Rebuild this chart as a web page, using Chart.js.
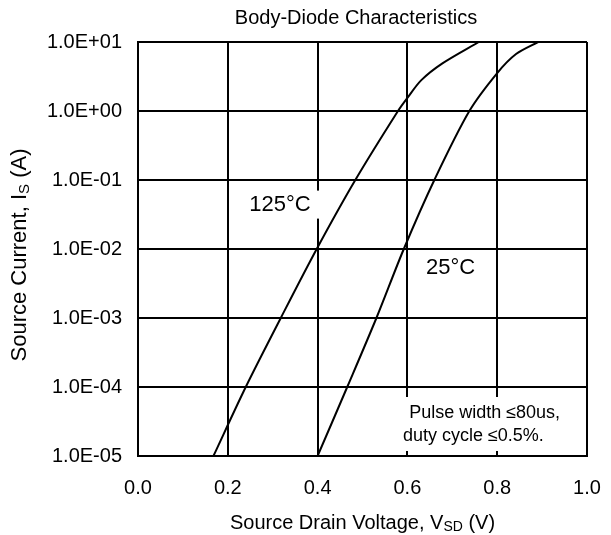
<!DOCTYPE html>
<html>
<head>
<meta charset="utf-8">
<script src="https://cdn.jsdelivr.net/npm/chart.js@4"></script>
<style>
  html, body { margin: 0; padding: 0; background: #fff; }
  #wrap { width: 611px; height: 535px; }
</style>
</head>
<body>
<div id="wrap"><canvas id="chart" width="611" height="535"></canvas></div>
<script>
// =============================================
// Data
// =============================================
const voltage125 = [0.168, 0.240, 0.318, 0.398, 0.484, 0.579, 0.600, 0.631, 0.678, 0.759];
const current125 = [1e-5, 1e-4, 1e-3, 1e-2, 1e-1, 1e0, 1.55, 2.8, 4.9, 10];

const voltage25 = [0.400, 0.466, 0.531, 0.592, 0.660, 0.738, 0.800, 0.842, 0.891];
const current25 = [1e-5, 1e-4, 1e-3, 1e-2, 1e-1, 1e0, 3.55, 6.7, 10];

const xTicks = [0, 0.2, 0.4, 0.6, 0.8, 1.0];
const yTicks = [1e-5, 1e-4, 1e-3, 1e-2, 1e-1, 1e0, 1e1];

const FONT = '"Liberation Sans", Arial, sans-serif';

function toPoints(xs, ys) {
  return xs.map((x, i) => ({ x, y: ys[i] }));
}

function sciLabel(v) {
  const e = Math.round(Math.log10(v));
  const sign = e < 0 ? '-' : '+';
  return '1.0E' + sign + String(Math.abs(e)).padStart(2, '0');
}

// =============================================
// Text helpers
// =============================================
// parts: [{ t: 'text', sub: bool }]
function partsWidth(ctx, parts, size, subSize) {
  let w = 0;
  parts.forEach(p => {
    ctx.font = `${p.sub ? subSize : size}px ${FONT}`;
    w += ctx.measureText(p.t).width;
  });
  return w;
}

function drawParts(ctx, parts, cx, cy, size, subSize) {
  const total = partsWidth(ctx, parts, size, subSize);
  let x = cx - total / 2;
  ctx.textBaseline = 'middle';
  ctx.textAlign = 'left';
  ctx.fillStyle = '#000';
  parts.forEach(p => {
    ctx.font = `${p.sub ? subSize : size}px ${FONT}`;
    ctx.fillText(p.t, x, p.sub ? cy + size * 0.2 : cy);
    x += ctx.measureText(p.t).width;
  });
}

const labelsPlugin = {
  id: 'labels',
  beforeDatasetsDraw(chart) {
    const ctx = chart.ctx;
    const xs = chart.scales.x;
    const ys = chart.scales.y;
    ctx.save();

    // 125°C label with white box over the grid
    const l1x = xs.getPixelForValue(0.316);
    const l1y = ys.getPixelForValue(0.044);
    ctx.fillStyle = '#fff';
    ctx.fillRect(l1x - 36, l1y - 14, 78, 28);
    ctx.fillStyle = '#000';
    ctx.font = `22px ${FONT}`;
    ctx.textAlign = 'center';
    ctx.textBaseline = 'middle';
    ctx.fillText('125°C', l1x, l1y);

    // 25°C label
    ctx.fillText('25°C', xs.getPixelForValue(0.696), ys.getPixelForValue(0.0053));

    // Pulse note
    const n1x = xs.getPixelForValue(0.772);
    const n2x = xs.getPixelForValue(0.747);
    const ny1 = ys.getPixelForValue(4.2e-5);
    const ny2 = ys.getPixelForValue(1.95e-5);
    ctx.fillStyle = '#fff';
    ctx.fillRect(n2x - 76, ny1 - 16, 170, ny2 - ny1 + 31);
    ctx.fillStyle = '#000';
    ctx.font = `18px ${FONT}`;
    ctx.fillText('Pulse width ≤80us,', n1x, ny1);
    ctx.fillText('duty cycle ≤0.5%.', n2x, ny2);

    ctx.restore();
  },
  afterDraw(chart) {
    const ctx = chart.ctx;
    const area = chart.chartArea;
    ctx.save();

    // Title
    ctx.fillStyle = '#000';
    ctx.font = `20px ${FONT}`;
    ctx.textAlign = 'center';
    ctx.textBaseline = 'middle';
    ctx.fillText('Body-Diode Characteristics', 356, 18);

    // X axis title
    drawParts(ctx, [
      { t: 'Source Drain Voltage, V' },
      { t: 'SD', sub: true },
      { t: ' (V)' }
    ], (area.left + area.right) / 2, 523, 20, 14);

    // Y axis title (rotated)
    ctx.translate(20, 255);
    ctx.rotate(-Math.PI / 2);
    drawParts(ctx, [
      { t: 'Source Current, I' },
      { t: 'S', sub: true },
      { t: ' (A)' }
    ], 0, 0, 22, 15);

    ctx.restore();
  }
};

// =============================================
// Chart
// =============================================
const lineStyle = {
  borderColor: '#000',
  borderWidth: 2,
  pointRadius: 0,
  fill: false,
  tension: 0.3
};

new Chart(document.getElementById('chart'), {
  type: 'line',
  data: {
    datasets: [
      { label: '125°C', data: toPoints(voltage125, current125), ...lineStyle },
      { label: '25°C', data: toPoints(voltage25, current25), ...lineStyle }
    ]
  },
  options: {
    responsive: false,
    animation: false,
    layout: { padding: { top: 42, right: 24, bottom: 0, left: 0 } },
    plugins: {
      legend: { display: false },
      tooltip: { enabled: false }
    },
    scales: {
      x: {
        type: 'linear',
        min: 0,
        max: 1,
        afterBuildTicks: (scale) => { scale.ticks = xTicks.map(v => ({ value: v })); },
        afterFit: (scale) => {
          scale.height = 79;
          scale.paddingLeft = 0;
          scale.paddingRight = 0;
        },
        grid: { color: '#000', lineWidth: 2, drawTicks: false },
        border: { color: '#000', width: 2 },
        ticks: {
          autoSkip: false,
          maxRotation: 0,
          padding: 20,
          color: '#000',
          font: { size: 20, family: FONT },
          callback: (v) => Number(v).toFixed(1)
        }
      },
      y: {
        type: 'logarithmic',
        min: 1e-5,
        max: 10,
        afterBuildTicks: (scale) => { scale.ticks = yTicks.map(v => ({ value: v })); },
        afterFit: (scale) => {
          scale.width = 138;
          scale.paddingTop = 0;
          scale.paddingBottom = 0;
        },
        grid: { color: '#000', lineWidth: 2, drawTicks: false },
        border: { color: '#000', width: 2 },
        ticks: {
          autoSkip: false,
          padding: 16,
          color: '#000',
          font: { size: 20, family: FONT },
          callback: (v) => sciLabel(v)
        }
      }
    }
  },
  plugins: [labelsPlugin]
});
</script>
</body>
</html>
